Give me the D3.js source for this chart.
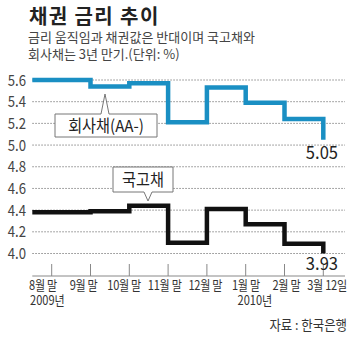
<!DOCTYPE html>
<html><head><meta charset="utf-8">
<script src="https://cdn.jsdelivr.net/npm/d3@7"></script>
<style>
html,body{margin:0;padding:0;background:#fff;}
svg{display:block;}
text{font-family:"Noto Sans CJK KR","Noto Sans",sans-serif;}
</style></head>
<body>
<script>
// ---- data ----
const categories = ["8월 말","9월 말","10월 말","11월 말","12월 말","1월 말","2월 말","3월 12일"];
const corporate = [5.60, 5.54, 5.57, 5.21, 5.53, 5.39, 5.24, 5.05];
const government = [4.38, 4.39, 4.44, 4.10, 4.41, 4.27, 4.09, 3.93];
const yTicks = [4.0, 4.2, 4.4, 4.6, 4.8, 5.0, 5.2, 5.4, 5.6];
const years = {0: "2009년", 5: "2010년"};
const titleText = "채권 금리 추이";
const subtitle = ["금리 움직임과 채권값은 반대이며 국고채와", "회사채는 3년 만기.(단위: %)"];
const sourceText = "자료 : 한국은행";

const W = 350, H = 337;
const svg = d3.select("body").append("svg").attr("width", W).attr("height", H);

const x = d3.scaleLinear().domain([0, 7]).range([51.7, 323.3]);
const xLab = d3.scaleLinear().domain([0, 7]).range([43, 327]);
const y = d3.scaleLinear().domain([4.0, 5.6]).range([253.5, 80]).clamp(true);
const gridLeft = x(-0.5), gridRight = 345, baseY = 276;

function txt(g, px, py, s, o) {
  o = o || {};
  return g.append("text")
    .attr("transform", `translate(${px},${py}) scale(${o.sx || 1},1)`)
    .attr("text-anchor", o.anchor || "start")
    .attr("font-size", o.size || 13)
    .attr("font-weight", o.weight || "normal")
    .attr("fill", o.fill || "#333")
    .attr("letter-spacing", o.ls || 0)
    .text(s);
}

// title / subtitle
txt(svg, 29, 24, titleText, {size: 20, weight: "bold", fill: "#222", ls: 1.4});
const sub = svg.append("text")
  .attr("transform", "translate(28,42)")
  .attr("font-size", 13).attr("fill", "#444");
subtitle.forEach((s, i) => {
  sub.append("tspan").attr("x", 0).attr("dy", i === 0 ? 0 : 16.5).text(s);
});

// grid
const grid = svg.append("g");
grid.selectAll("line").data(yTicks).join("line")
  .attr("x1", gridLeft).attr("x2", gridRight)
  .attr("y1", d => y(d)).attr("y2", d => y(d))
  .attr("stroke", "#8a8a8a").attr("stroke-width", 1)
  .attr("stroke-dasharray", "1.5,1.5");

// y labels
yTicks.forEach(t => {
  txt(svg, 26, y(t) + 5.5, t.toFixed(1), {size: 15.5, fill: "#444", anchor: "end", sx: 0.85});
});

// x axis
svg.append("line").attr("x1", gridLeft).attr("x2", gridRight)
  .attr("y1", baseY).attr("y2", baseY).attr("stroke", "#888").attr("stroke-width", 1);
svg.append("g").selectAll("line").data(categories).join("line")
  .attr("x1", (d, i) => x(i)).attr("x2", (d, i) => x(i))
  .attr("y1", baseY - 12).attr("y2", baseY)
  .attr("stroke", "#888").attr("stroke-width", 1);
const sxL = 0.85;
categories.forEach((c, i) => {
  const cx = xLab(i);
  const t = svg.append("text")
    .attr("transform", `translate(${cx},289.5) scale(${sxL},1)`)
    .attr("font-size", 13).attr("fill", "#333");
  t.append("tspan").attr("x", 0).attr("text-anchor", "middle").attr("letter-spacing", -0.3).text(c);
  if (years[i]) {
    const target = i === 0 ? 30 : cx + 9;
    t.append("tspan").attr("x", (target - cx) / sxL).attr("dy", 15.5)
      .attr("text-anchor", i === 0 ? "start" : "middle").text(years[i]);
  }
});
txt(svg, 347, 330, sourceText, {size: 13.5, fill: "#333", anchor: "end", sx: 0.92});

// lines
const line = d3.line()
  .x((d, i) => x(i === 0 ? -0.5 : i))
  .y(d => y(d))
  .curve(d3.curveStepAfter);

svg.append("path").datum(corporate).attr("d", line)
  .attr("fill", "none").attr("stroke", "#1a8fc3").attr("stroke-width", 4.5);
svg.append("path").datum(government).attr("d", line)
  .attr("fill", "none").attr("stroke", "#111").attr("stroke-width", 4.5);

// end labels
txt(svg, 338, y(corporate[7]) + 19, corporate[7].toFixed(2), {size: 18, fill: "#222", anchor: "end", sx: 0.92});
txt(svg, 338, 270, government[7].toFixed(2), {size: 18, fill: "#222", anchor: "end", sx: 0.92});

// callouts
function callout(bx, by, bw, bh, tipX, tipY, label, up) {
  const g = svg.append("g");
  const tw = 4;
  let p;
  if (up) {
    p = `M${bx},${by} L${tipX - tw},${by} L${tipX},${tipY} L${tipX + tw},${by} L${bx + bw},${by} L${bx + bw},${by + bh} L${bx},${by + bh} Z`;
  } else {
    p = `M${bx},${by} L${bx + bw},${by} L${bx + bw},${by + bh} L${tipX + tw},${by + bh} L${tipX},${tipY} L${tipX - tw},${by + bh} L${bx},${by + bh} Z`;
  }
  g.append("path").attr("d", p).attr("fill", "#fff").attr("stroke", "#777").attr("stroke-width", 1);
  txt(g, bx + bw / 2, by + bh / 2 + 6, label, {size: 16.5, fill: "#222", anchor: "middle", sx: 0.92});
}
callout(55, 114, 102, 23, 105, 94, "회사채(AA-)", true);
callout(113, 167, 60, 25, 148, 201, "국고채", false);
</script>
</body></html>
